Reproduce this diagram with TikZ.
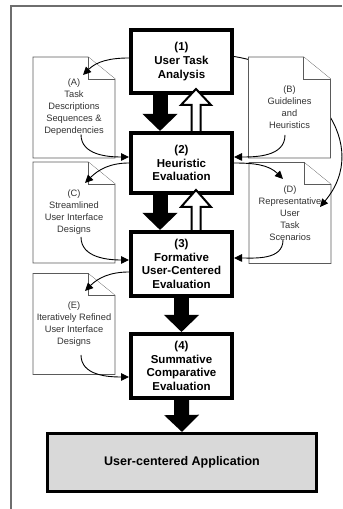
\documentclass[tikz,border=0pt]{standalone}
\usepackage{fontspec}
\setmainfont{Liberation Sans}
\usetikzlibrary{arrows.meta}
\definecolor{framegray}{HTML}{6E6E6E}
\definecolor{docgray}{HTML}{5A5A5A}
\definecolor{textgray}{HTML}{333333}
\definecolor{appgray}{HTML}{D9D9D9}

% page with a folded corner: name, centre, text
\newcommand{\docpage}[3]{%
  \node[docshape] (#1) at (#2) {};
  \filldraw[docline] (#1.north west) -- ([xshift=-27bp]#1.north east) -- ([yshift=-22bp]#1.north east) -- (#1.south east) -- (#1.south west) -- cycle;
  \draw[docline] ([xshift=-27bp]#1.north east) |- ([yshift=-22bp]#1.north east);
  \node[doctext] (#1text) at (#1) {#3};
}

\begin{document}
\begin{tikzpicture}[x=1bp, y=1bp,
  stage/.style={draw, line width=4bp, minimum width=101bp, align=center, inner sep=0pt, font=\fontsize{11.5bp}{13.7bp}\selectfont\bfseries},
  docshape/.style={minimum width=82bp, minimum height=101bp, inner sep=0pt, outer sep=0pt},
  doctext/.style={align=center, inner sep=0pt, text=textgray, font=\fontsize{9.3bp}{12bp}\selectfont},
  docline/.style={draw=docgray, fill=white, line width=0.8bp},
  flow/.style={-{Triangle[length=8bp,width=7.5bp]}, line width=0.9bp},
  blockdown/.style={line width=15bp, -{Triangle[length=17bp,width=34bp]}},
  hollowup/.style={draw, fill=white, line width=2bp, line join=miter}
]
\useasboundingbox (0,0) rectangle (342,509);
\draw[framegray, line width=1.3bp] (11,0) -- (11,503) -- (342,503);

% stages
\node[stage, minimum height=63bp] (stage1) at (181.5,447.5) {(1)\\User Task\\Analysis};
\node[stage, minimum height=60bp] (stage2) at (181.5,346) {(2)\\Heuristic\\Evaluation};
\node[stage, minimum height=64bp] (stage3) at (181.5,245) {(3)\\Formative\\User-Centered\\Evaluation};
\node[stage, minimum height=64bp] (stage4) at (181.5,143) {(4)\\Summative\\Comparative\\Evaluation};
\node[draw, fill=appgray, line width=3bp, minimum width=269bp, minimum height=58bp,
  font=\fontsize{12.5bp}{15bp}\selectfont\bfseries] (app) at (182,46.5) {User-centered Application};

% documents
\docpage{docA}{74,401.5}{(A)\\Task\\Descriptions\\Sequences \&\\Dependencies}
\docpage{docC}{74,296.5}{(C)\\Streamlined\\User Interface\\Designs}
\docpage{docD}{290,296}{(D)\\Representative\\User\\Task\\Scenarios}
\docpage{docE}{74,185}{(E)\\Iteratively Refined\\User Interface\\Designs}
\draw[flow] ([yshift=5bp]stage1.east) to[out=-9,in=50,looseness=1.2] ([xshift=-11bp,yshift=-44.5bp]docD.north east);
\docpage{docB}{289.5,401.5}{(B)\\Guidelines\\and\\Heuristics}

% curved links
\draw[flow] ([yshift=3.5bp]stage1.west) to[out=180,in=45] ([xshift=-32bp,yshift=-18bp]docA.north east);
\draw[flow] ([xshift=7bp,yshift=-27bp]docA.center) to[out=-90,in=180] ([yshift=6bp]stage2.west);
\draw[flow] ([xshift=-4.5bp,yshift=-27.5bp]docB.center) to[out=-90,in=0] ([yshift=6bp]stage2.east);
\draw[flow] (stage2.west) to[out=180,in=45] ([xshift=-30bp,yshift=-21bp]docC.north east);
\draw[flow] (stage2.east) to[out=0,in=135] ([xshift=-48bp,yshift=-16.5bp]docD.north east);
\draw[flow] ([xshift=7bp,yshift=-24.5bp]docC.center) to[out=-90,in=180] ([yshift=4bp]stage3.west);
\draw[flow] ([xshift=-7bp,yshift=-27bp]docD.center) to[out=-90,in=0] ([yshift=6bp]stage3.east);
\draw[flow] ([yshift=-8bp]stage3.west) to[out=180,in=45] ([xshift=-30bp,yshift=-17.5bp]docE.north east);
\draw[flow] ([xshift=7bp,yshift=-31bp]docE.center) to[out=-90,in=180] ([yshift=-11bp]stage4.west);

% block arrows
\draw[blockdown] ([xshift=-21.5bp]stage1.south) -- ([xshift=-21.5bp]stage2.north);
\draw[blockdown] ([xshift=-21.5bp]stage2.south) -- ([xshift=-21.5bp]stage3.north);
\draw[blockdown] (stage3.south) -- (stage4.north);
\draw[blockdown] (stage4.south) -- (app.north);
\draw[hollowup] ([xshift=10bp]stage2.north) -- ++(0,26) -- ++(-10.5,0) -- ([xshift=14.5bp,yshift=6bp]stage1.south) -- ++(15,-16) -- ++(-10.5,0) -- ([xshift=19bp]stage2.north);
\draw[hollowup] ([xshift=10bp]stage3.north) -- ++(0,23) -- ++(-10.5,0) -- ([xshift=14.5bp,yshift=5bp]stage2.south) -- ++(15,-17) -- ++(-10.5,0) -- ([xshift=19bp]stage3.north);
\end{tikzpicture}
\end{document}
